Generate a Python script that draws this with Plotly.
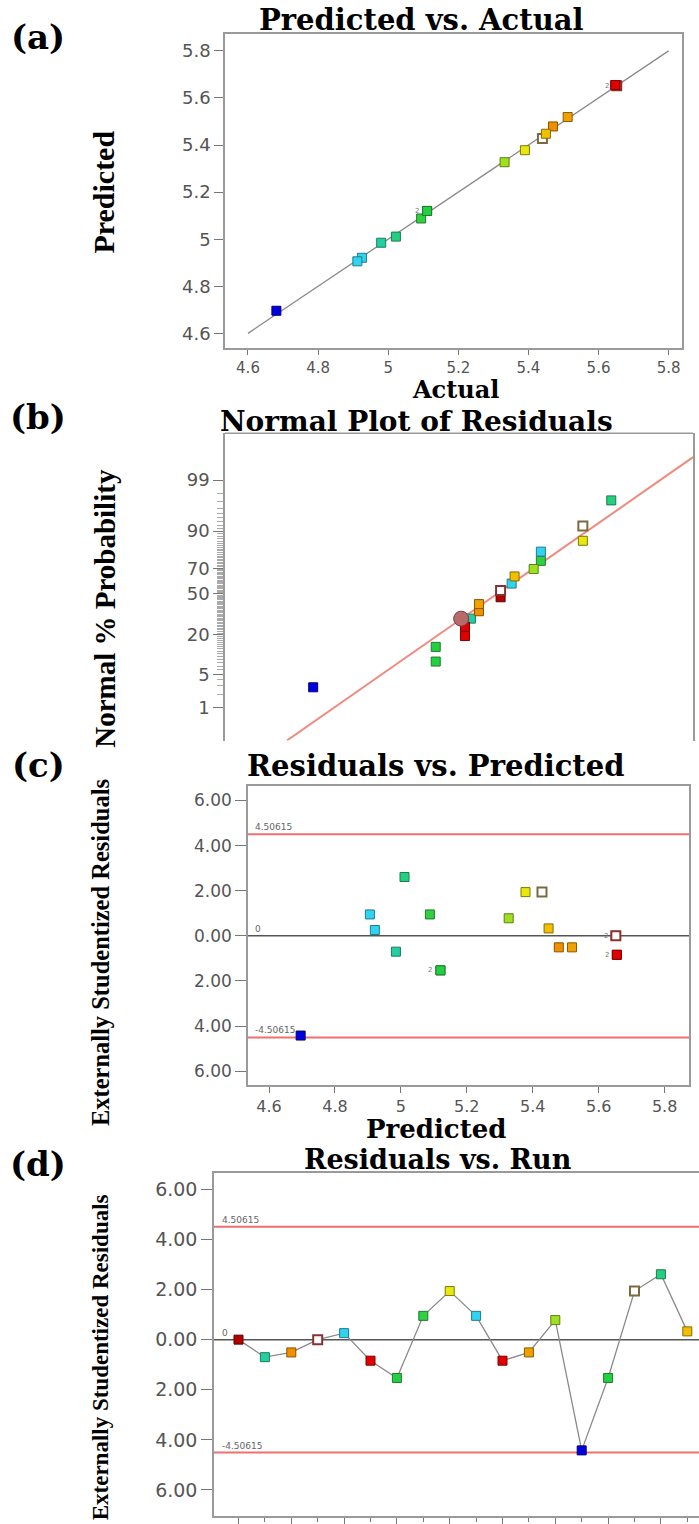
import plotly.graph_objects as go
from statistics import NormalDist

# ---------------- data (18 runs, in run order) ----------------
runs = list(range(1, 19))
actual = [5.652, 4.980, 5.470, 5.652, 4.925, 5.648, 5.111, 5.094, 5.390,
          4.912, 5.648, 5.512, 5.332, 4.681, 5.111, 5.440, 5.022, 5.450]
predicted = [5.652, 4.985, 5.479, 5.652, 4.921, 5.655, 5.120, 5.088, 5.378,
             4.906, 5.655, 5.519, 5.327, 4.696, 5.120, 5.428, 5.011, 5.448]
residuals = [0.00, -0.70, -0.51, 0.00, 0.26, -0.84, -1.53, 0.95, 1.94,
             0.95, -0.84, -0.51, 0.78, -4.42, -1.53, 1.94, 2.61, 0.33]
normal_pct = [47.2, 30.6, 36.1, 52.8, 58.3, 19.4, 8.3, 75.0, 86.1,
              80.6, 25.0, 41.7, 69.4, 2.8, 13.9, 91.7, 97.2, 63.9]
fill_colors = ["#b00000", "#22cfa0", "#f09000", "#ffffff", "#30d4f0", "#e00000",
               "#22d040", "#30d040", "#e8e810", "#30d4f0", "#e00000", "#f0a000",
               "#a0e020", "#0000e0", "#22d040", "#ffffff", "#22d080", "#f0c000"]
edge_colors = ["#600000", "#207a60", "#8a5000", "#8b3030", "#207a90", "#800000",
               "#207a30", "#207a30", "#7a7a00", "#207a90", "#800000", "#8a5a00",
               "#5a8010", "#000070", "#207a30", "#7a6a40", "#207a50", "#8a6a00"]
edge_widths = [1, 1, 1, 2, 1, 1, 1, 1, 1, 1, 1, 1, 1, 1, 1, 2, 1, 1]

diag_line = [4.6, 5.8]
normal_line_resid = [-5.04, 4.54]
normal_line_pct = [0.135, 99.74]
highlight_resid = [-0.93]
highlight_pct = [30.6]
limit_value = 4.50615

prob_ticks = [1, 5, 20, 50, 70, 90, 99]
prob_minor = [p for p in range(1, 100) if p not in prob_ticks]
resid_ticks = [6, 4, 2, 0, -2, -4, -6]
resid_ticktext = ["6.00", "4.00", "2.00", "0.00", "2.00", "4.00", "6.00"]

nd = NormalDist()


def zq(p):
    return nd.inv_cdf(p / 100.0)


W, H = 699, 1524


def px(x):
    return x / W


def py(y):
    return 1 - y / H


TICKFONT = "DejaVu Sans"
TICKCOL = "#555555"
SERIF_H = "DejaVu Serif"
SERIF_V = "Liberation Serif"
BOX = "#9a9a9a"

marker = dict(symbol="square", size=9, color=fill_colors,
              line=dict(color=edge_colors, width=edge_widths))

fig = go.Figure()

# (a) Predicted vs Actual
fig.add_trace(go.Scatter(x=diag_line, y=diag_line, mode="lines",
                         line=dict(color="#8a8a8a", width=1.3),
                         xaxis="x", yaxis="y", hoverinfo="skip"))
fig.add_trace(go.Scatter(x=actual, y=predicted, mode="markers", marker=marker,
                         xaxis="x", yaxis="y"))

# (b) Normal plot
fig.add_trace(go.Scatter(x=normal_line_resid, y=[zq(p) for p in normal_line_pct],
                         mode="lines", line=dict(color="#f08a80", width=2),
                         xaxis="x2", yaxis="y2", hoverinfo="skip"))
fig.add_trace(go.Scatter(x=residuals, y=[zq(p) for p in normal_pct], mode="markers",
                         marker=marker, xaxis="x2", yaxis="y2"))
fig.add_trace(go.Scatter(x=highlight_resid, y=[zq(p) for p in highlight_pct],
                         mode="markers",
                         marker=dict(symbol="circle", size=15, color="#b86a6a",
                                     line=dict(color="#7a3a3a", width=1)),
                         xaxis="x2", yaxis="y2"))

# (c) Residuals vs Predicted
fig.add_trace(go.Scatter(x=predicted, y=residuals, mode="markers", marker=marker,
                         xaxis="x3", yaxis="y3"))

# (d) Residuals vs Run
fig.add_trace(go.Scatter(x=runs, y=residuals, mode="lines+markers",
                         line=dict(color="#8a8a8a", width=1.3), marker=marker,
                         xaxis="x4", yaxis="y4"))


def tf(size):
    return dict(family=TICKFONT, size=size, color=TICKCOL)


common = dict(showgrid=False, zeroline=False, tickcolor="#777", ticks="outside")

layout = dict(
    width=W, height=H, margin=dict(l=0, r=0, t=0, b=0),
    paper_bgcolor="white", plot_bgcolor="white", showlegend=False,
    # (a)
    xaxis=dict(common, domain=[px(225), px(682)], range=[4.5344, 5.8382], anchor="y",
               tick0=4.6, dtick=0.2, ticklen=5,
               showline=True, mirror=True, linecolor=BOX, linewidth=1.5, tickfont=tf(15)),
    yaxis=dict(common, domain=[py(349), py(34)], range=[4.5364, 5.8721], anchor="x",
               tick0=4.6, dtick=0.2, ticklen=9,
               showline=True, mirror=True, linecolor=BOX, linewidth=1.5, tickfont=tf(18)),
    # (b)
    xaxis2=dict(domain=[px(225), px(693)], range=[-6.50, 4.538], anchor="y2",
                showline=False, showticklabels=False, ticks="",
                showgrid=False, zeroline=False),
    yaxis2=dict(common, domain=[py(742), py(434)], range=[-3.0, 3.286], anchor="x2",
                tickmode="array", tickvals=[zq(p) for p in prob_ticks],
                ticktext=[str(p) for p in prob_ticks], ticklen=10,
                minor=dict(tickmode="array", tickvals=[zq(p) for p in prob_minor],
                           ticks="outside", ticklen=6, tickcolor="#aaa", showgrid=False),
                showline=True, mirror=True, linecolor=BOX, linewidth=1.5, tickfont=tf(18)),
    # (c)
    xaxis3=dict(common, domain=[px(248), px(689)], range=[4.5363, 5.8739], anchor="y3",
                tick0=4.6, dtick=0.2, ticklen=6,
                showline=True, mirror=True, linecolor=BOX, linewidth=1.5, tickfont=tf(16)),
    yaxis3=dict(common, domain=[py(1087), py(788)], range=[-6.606, 6.624], anchor="x3",
                tickmode="array", tickvals=resid_ticks, ticktext=resid_ticktext, ticklen=11,
                showline=True, mirror=True, linecolor=BOX, linewidth=1.5, tickfont=tf(17)),
    # (d)
    xaxis4=dict(common, domain=[px(214), 1.0], range=[0.072, 18.443], anchor="y4",
                tickmode="array", tickvals=runs[::2], ticklen=8, showticklabels=False,
                minor=dict(tickmode="array", tickvals=runs[1::2], ticks="outside",
                           ticklen=4, tickcolor="#777", showgrid=False),
                showline=True, mirror=True, linecolor=BOX, linewidth=1.5),
    yaxis4=dict(common, domain=[py(1519), py(1175)], range=[-7.04, 6.665], anchor="x4",
                tickmode="array", tickvals=resid_ticks, ticktext=resid_ticktext, ticklen=11,
                showline=True, mirror=False, linecolor=BOX, linewidth=1.5, tickfont=tf(19)),
)
fig.update_layout(**layout)

shapes = []
# top border of (b)
shapes.append(dict(type="line", xref="x2 domain", yref="y2 domain", x0=0, x1=1, y0=1, y1=1,
                   line=dict(color=BOX, width=1.5)))
for xa, ya in (("x3", "y3"), ("x4", "y4")):
    for v in (limit_value, -limit_value):
        shapes.append(dict(type="line", xref=xa + " domain", yref=ya, x0=0, x1=1, y0=v, y1=v,
                           line=dict(color="#f07070", width=2), layer="below"))
    shapes.append(dict(type="line", xref=xa + " domain", yref=ya, x0=0, x1=1, y0=0, y1=0,
                       line=dict(color="#555555", width=1.5), layer="below"))
fig.update_layout(shapes=shapes)

ann = []


def text(x, y, s, size, family, bold=True, angle=0, color="black", xanchor="center"):
    ann.append(dict(x=px(x), y=py(y), xref="paper", yref="paper", text=s, showarrow=False,
                    textangle=angle, xanchor=xanchor, yanchor="middle",
                    font=dict(family=family, size=size, color=color,
                              weight="bold" if bold else "normal")))


# panel letters
for lbl, yy in (("(a)", 37), ("(b)", 418), ("(c)", 767), ("(d)", 1166)):
    text(38, yy, lbl, 34, SERIF_H)
# titles
text(422, 20, "Predicted vs. Actual", 29, SERIF_H)
text(455, 390, "Actual", 24, SERIF_H)
text(417, 422, "Normal Plot of Residuals", 28, SERIF_H)
text(435, 768, "Residuals vs. Predicted", 29, SERIF_H)
text(436, 1131, "Predicted", 26, SERIF_H)
text(438, 1162, "Residuals vs. Run", 27, SERIF_H)
# vertical axis titles
text(104, 193, "Predicted", 30, SERIF_V, angle=-90)
text(105, 610, "Normal % Probability", 29, SERIF_V, angle=-90)
text(100, 955, "Externally Studentized Residuals", 24.5, SERIF_V, angle=-90)
text(100, 1360, "Externally Studentized Residuals", 23, SERIF_V, angle=-90)

# small limit labels
for xa, ya in (("x3", "y3"), ("x4", "y4")):
    for v, s in ((limit_value, "4.50615"), (-limit_value, "-4.50615"), (0, "0")):
        ann.append(dict(x=0.012, y=v, xref=xa + " domain", yref=ya, text=s, showarrow=False,
                        xanchor="left", yanchor="bottom", yshift=0,
                        font=dict(family=TICKFONT, size=9, color="#666")))
# multiplicity marks
for xa, ya, xv, yv in (("x", "y", actual[3], predicted[3]), ("x", "y", actual[6], predicted[6]),
                       ("x3", "y3", predicted[6], residuals[6]),
                       ("x3", "y3", predicted[5], residuals[5]),
                       ("x3", "y3", predicted[3], residuals[3])):
    ann.append(dict(x=xv, y=yv, xref=xa, yref=ya, text="2", showarrow=False,
                    xanchor="right", xshift=-6, font=dict(family=TICKFONT, size=7, color="#777")))

fig.update_layout(annotations=ann)
fig.write_html("out.html", config={"displayModeBar": False},
               post_script="document.body.style.margin='0';document.body.style.overflow='hidden';")
